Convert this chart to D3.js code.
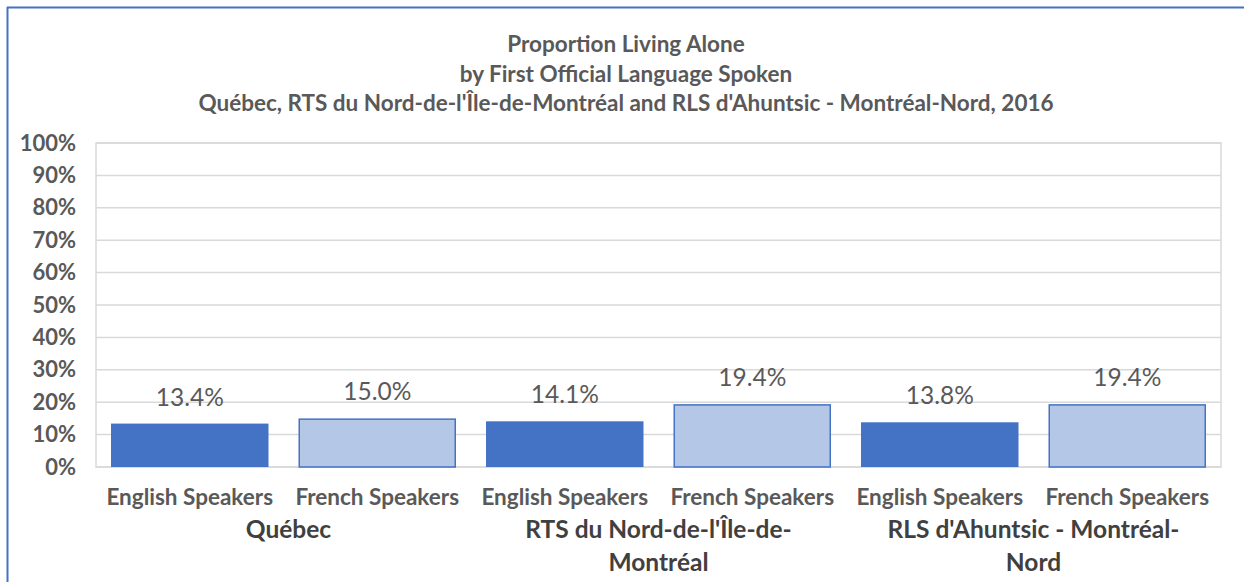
<!DOCTYPE html>
<html><head><meta charset="utf-8">
<script src="https://cdn.jsdelivr.net/npm/d3@7"></script>
<style>
body{margin:0;background:#fff;}
svg{display:block;font-family:Lato,"Open Sans",sans-serif;}
</style></head><body>
<svg id="c" width="1244" height="582"></svg>
<script>
const titleLines = ["Proportion Living Alone","by First Official Language Spoken","Québec, RTS du Nord-de-l'Île-de-Montréal and RLS d'Ahuntsic - Montréal-Nord, 2016"];
const groups = ["Québec","RTS du Nord-de-l'Île-de-Montréal","RLS d'Ahuntsic - Montréal-Nord"];
const groupLabelLines = [["Québec"],["RTS du Nord-de-l'Île-de-","Montréal"],["RLS d'Ahuntsic - Montréal-","Nord"]];
const series = ["English Speakers","French Speakers"];
const values = [[13.4,15.0],[14.1,19.4],[13.8,19.4]];
const yTicks = [0,10,20,30,40,50,60,70,80,90,100];

const svg = d3.select("#c");
const L=96,R=1221,T=143,B=467;
const darkBlue="#4472C4", lightBlue="#B4C7E7", gray="#595959";

// outer border
svg.append("line").attr("x1",7).attr("x2",1244).attr("y1",7.5).attr("y2",7.5).attr("stroke",darkBlue).attr("stroke-width",2);
svg.append("line").attr("x1",7.5).attr("x2",7.5).attr("y1",7).attr("y2",582).attr("stroke",darkBlue).attr("stroke-width",2);

// title
svg.append("g").selectAll("text").data(titleLines).join("text")
  .attr("x",626).attr("y",(d,i)=>52+i*29.5).attr("text-anchor","middle")
  .attr("font-size",22.5).attr("font-weight",700).attr("fill",gray).text(d=>d);

const y = d3.scaleLinear().domain([0,100]).range([B,T]);
const cats = [];
groups.forEach((g,gi)=>series.forEach((s,si)=>cats.push({g:gi,s:si,key:gi+"-"+si,v:values[gi][si]})));
const x = d3.scaleBand().domain(cats.map(d=>d.key)).range([L,R]).paddingInner(0.16).paddingOuter(0.08);
const xg = d3.scaleBand().domain(groups).range([L,R]);

// gridlines
svg.append("g").selectAll("line").data(yTicks).join("line")
  .attr("x1",L).attr("x2",R).attr("y1",d=>y(d)).attr("y2",d=>y(d))
  .attr("stroke","#d9d9d9").attr("stroke-width",1.5);
svg.append("rect").attr("x",L).attr("y",T).attr("width",R-L).attr("height",B-T)
  .attr("fill","none").attr("stroke","#d9d9d9").attr("stroke-width",1.5);

// y axis
const ya = svg.append("g").attr("transform",`translate(${L-20},0)`)
  .call(d3.axisLeft(y).tickValues(yTicks).tickFormat(d=>d+"%").tickSize(0).tickPadding(0));
ya.select(".domain").remove();
ya.selectAll("text").attr("font-size",22).attr("font-weight",700).attr("fill",gray).attr("font-family","Lato");

// bars
svg.append("g").selectAll("rect").data(cats).join("rect")
  .attr("x",d=>x(d.key)+(d.s?0.75:0)).attr("width",d=>x.bandwidth()-(d.s?1.5:0))
  .attr("y",d=>y(d.v)+(d.s?0.75:0)).attr("height",d=>B-y(d.v)-(d.s?0.75:0))
  .attr("fill",d=>d.s?lightBlue:darkBlue)
  .attr("stroke",d=>d.s?darkBlue:"none").attr("stroke-width",1.5);

// data labels
svg.append("g").selectAll("text").data(cats).join("text")
  .attr("x",d=>x(d.key)+x.bandwidth()/2).attr("y",d=>y(d.v)-18)
  .attr("text-anchor","middle").attr("font-size",24.5).attr("fill",gray)
  .text(d=>d.v.toFixed(1)+"%");

// category labels
svg.append("g").selectAll("text").data(cats).join("text")
  .attr("x",d=>x(d.key)+x.bandwidth()/2).attr("y",505)
  .attr("text-anchor","middle").attr("font-size",22.5).attr("font-weight",700).attr("fill",gray)
  .text(d=>series[d.s]);

// group labels
groupLabelLines.forEach((lines,gi)=>{
  svg.append("g").selectAll("text").data(lines).join("text")
    .attr("x",xg(groups[gi])+xg.bandwidth()/2+(gi===0?5:0)).attr("y",(d,i)=>538+i*33)
    .attr("text-anchor","middle").attr("font-size",24.5).attr("font-weight",700).attr("fill","#404040")
    .text(d=>d);
});
</script></body></html>
